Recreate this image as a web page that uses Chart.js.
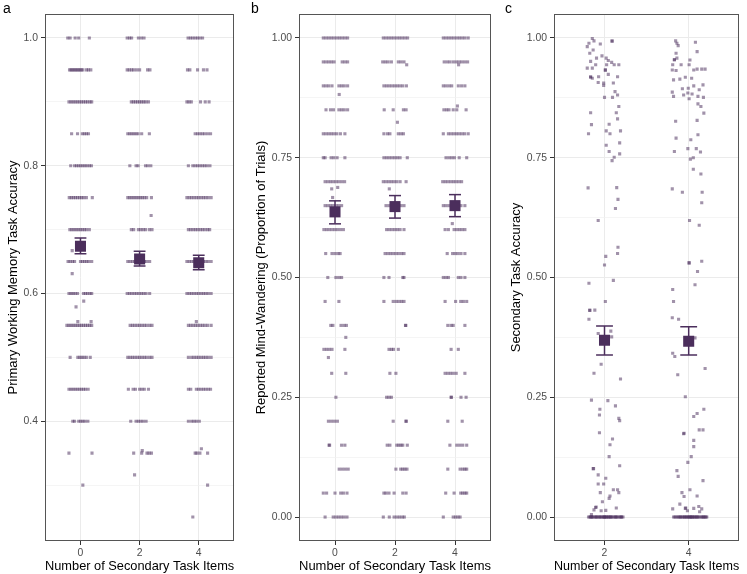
<!DOCTYPE html>
<html><head><meta charset="utf-8">
<script src="https://cdn.jsdelivr.net/npm/chart.js@4"></script>
<style>
html,body{margin:0;padding:0;background:#fff;}
#wrap{position:relative;width:747px;height:574px;overflow:hidden;font-family:"Liberation Sans",Arial,sans-serif;}
canvas{position:absolute;top:0;}
.lab{position:absolute;top:0;font-size:14px;line-height:16px;color:#000;}
</style></head><body>
<div id="wrap">
<canvas id="ca" width="242" height="574" style="left:0"></canvas>
<canvas id="cb" width="250" height="574" style="left:250px"></canvas>
<canvas id="cc" width="242" height="574" style="left:505px"></canvas>
<div class="lab" style="left:3px">a</div>
<div class="lab" style="left:251px">b</div>
<div class="lab" style="left:505px">c</div>
</div>
<script>
// ---------- Panel a: primary WM accuracy ----------
const aGroups = [0, 2, 4];
const aRows = [1.0, 0.95, 0.9, 0.85, 0.8, 0.75, 0.7, 0.65, 0.6, 0.55, 0.5, 0.45, 0.4, 0.35];
const aJit0 = [
  [-0.43,-0.35,-0.18,-0.06,0.30],
  [-0.37,-0.32,-0.27,-0.22,-0.17,-0.12,-0.07,-0.02,0.03,0.08,0.2,0.27,0.35],
  [-0.39,-0.32,-0.25,-0.18,-0.11,-0.04,0.03,0.1,0.17,0.24,0.32,0.38],
  [-0.3,-0.1,0.06,0.13,0.2,0.27],
  [-0.33,-0.2,-0.13,-0.06,0.01,0.08,0.15,0.22,0.3,0.37],
  [-0.38,-0.31,-0.24,-0.17,-0.1,-0.03,0.04,0.11,0.2,0.4],
  [-0.36,-0.29,-0.22,-0.15,-0.08,-0.01,0.06,0.13,0.2,0.3],
  [-0.42,-0.35,-0.27,-0.2,0.0,0.07,0.14,0.21,0.28,0.38],
  [-0.39,-0.32,-0.25,-0.18,-0.1,0.1,0.17,0.24,0.32,0.38],
  [-0.46,-0.39,-0.32,-0.25,-0.18,-0.11,-0.04,0.03,0.1,0.17,0.24,0.31,0.38],
  [-0.35,-0.09,-0.02,0.05,0.12,0.2,0.33],
  [-0.39,-0.32,-0.25,-0.18,-0.11,-0.04,0.03,0.1,0.17,0.26],
  [-0.26,-0.2,-0.06,0.01,0.08,0.15,0.25],
  [-0.39,0.39]
];
const aJit2 = [
  [-0.42,-0.34,-0.27,-0.04,0.06,0.15],
  [-0.42,-0.35,-0.27,-0.2,-0.1,0.0,0.27,0.35],
  [-0.28,-0.21,-0.14,-0.07,0.0,0.07,0.14,0.21,0.3],
  [-0.4,-0.33,-0.26,-0.19,-0.12,-0.05,0.07,0.33],
  [-0.33,-0.12,-0.05,0.2,0.28,0.38],
  [-0.4,-0.33,-0.26,-0.19,-0.12,-0.05,0.02,0.09,0.16,0.24,0.4],
  [-0.28,-0.2,-0.04,0.04,0.12,0.2,0.33,0.42],
  [-0.4,-0.32,-0.24,-0.16,-0.08,0.0,0.08,0.16,0.24,0.34],
  [-0.42,-0.34,-0.26,-0.18,-0.1,-0.02,0.06,0.14,0.22,0.34],
  [-0.32,-0.24,-0.16,-0.08,0.0,0.08,0.16,0.24,0.34,0.42],
  [-0.4,-0.32,-0.24,-0.16,-0.08,0.0,0.08,0.16,0.24,0.34,0.42],
  [-0.38,-0.22,-0.14,0.0,0.08,0.16,0.3],
  [-0.3,-0.12,-0.04,0.04,0.12,0.22],
  [-0.2,0.07,0.25,0.32,0.4]
];
const aJit4 = [
  [-0.36,-0.28,-0.2,-0.12,-0.04,0.04,0.13],
  [-0.38,-0.3,-0.04,0.16,0.28],
  [-0.4,-0.33,-0.25,0.06,0.22,0.35],
  [-0.12,-0.04,0.04,0.12,0.2,0.3,0.4],
  [-0.35,-0.2,-0.12,-0.04,0.04,0.12,0.2,0.28,0.38],
  [-0.4,-0.32,-0.24,-0.16,-0.08,0.0,0.08,0.16,0.24,0.32,0.42],
  [-0.35,-0.27,-0.19,-0.11,-0.03,0.05,0.13,0.21,0.3,0.37],
  [-0.4,-0.32,-0.24,-0.16,-0.08,0.0,0.08,0.16,0.24,0.32,0.42],
  [-0.4,-0.32,-0.24,-0.16,-0.08,0.0,0.08,0.16,0.24,0.32,0.42],
  [-0.35,-0.27,-0.19,-0.11,-0.03,0.05,0.13,0.21,0.3,0.42],
  [-0.35,-0.24,-0.16,-0.08,0.0,0.08,0.16,0.24,0.32,0.42],
  [-0.35,-0.27,-0.08,0.0,0.08,0.16,0.24,0.32,0.4],
  [-0.35,-0.24,-0.16,-0.08,0.02],
  [-0.12,-0.06,0.04,0.3]
];
const aOff0 = [[-0.28,0.667],[-0.28,0.631],[0.11,0.588],[-0.15,0.579],[-0.09,0.556],[0.36,0.556],[0.08,0.30]];
const aOff2 = [[0.39,0.722],[0.09,0.354],[-0.17,0.316]];
const aOff4 = [[-0.08,0.556],[0.09,0.357],[0.3,0.30],[-0.2,0.25]];
const aMean = [0.674, 0.654, 0.648];
const aLo = [0.662, 0.643, 0.637];
const aHi = [0.687, 0.666, 0.660];
const aYMajor = [0.4, 0.6, 0.8, 1.0];
const aYMinor = [0.3, 0.5, 0.7, 0.9];
const aYLabels = ['0.4', '0.6', '0.8', '1.0'];

// ---------- Panel b: mind-wandering ----------
const bGroups = [0, 2, 4];
const bRows = [1.0,0.95,0.9,0.85,0.8,0.75,0.7,0.65,0.6,0.55,0.5,0.45,0.4,0.35,0.3,0.25,0.2,0.15,0.1,0.05,0.0];
const bJit0 = [
  [-0.39,-0.3,-0.21,-0.12,-0.03,0.06,0.15,0.24,0.33,0.42],
  [-0.39,-0.3,-0.21,-0.12,-0.03,0.24,0.33,0.42],
  [-0.39,-0.3,-0.21,-0.1,0.13,0.22,0.31,0.42],
  [-0.3,-0.15,-0.05,0.13,0.22,0.31,0.42],
  [-0.39,-0.3,-0.21,-0.12,-0.03,0.06,0.18,0.33],
  [-0.39,-0.33,-0.13,-0.04,0.07,0.33],
  [-0.33,-0.24,-0.15,-0.06,0.03,0.12,0.22,0.32],
  [-0.33,-0.24,-0.15,-0.06,0.03,0.12,0.22],
  [-0.37,-0.28,-0.19,-0.1,-0.01,0.08,0.18,0.28],
  [-0.31,-0.1,0.0,0.1,0.17],
  [-0.24,0.03,0.13,0.22],
  [-0.33,0.13],
  [-0.14,-0.07,0.2,0.3,0.38],
  [-0.37,-0.28,-0.19,-0.1,0.33],
  [-0.11,0.36],
  [0.03],
  [-0.22,-0.12,-0.02,0.08],
  [-0.2,-0.18,0.22,0.33],
  [0.14,0.24,0.34,0.44],
  [-0.39,-0.28,0.0,0.19,0.28,0.4],
  [-0.33,-0.06,0.03,0.12,0.21,0.3,0.4]
];
const bJit2 = [
  [-0.39,-0.3,-0.21,-0.12,-0.03,0.06,0.15,0.24,0.33,0.42],
  [-0.41,-0.32,-0.23,-0.12,0.11,0.2,0.3],
  [-0.37,-0.28,-0.19,-0.1,-0.01,0.08,0.17,0.26,0.38],
  [-0.36,-0.06,0.28,0.37],
  [-0.37,-0.25,-0.17,0.11,0.2,0.28],
  [-0.37,-0.28,-0.19,-0.1,-0.01,0.08,0.17,0.41],
  [-0.39,-0.3,-0.21,-0.12,-0.03,0.06,0.17,0.37],
  [-0.3,-0.2,-0.1,0.0,0.1,0.2,0.3],
  [-0.28,-0.19,-0.1,-0.01,0.08,0.17,0.3],
  [-0.33,-0.24,-0.15,-0.06,0.03,0.12,0.22,0.3],
  [-0.37,-0.2,0.26,0.3],
  [-0.37,-0.06,0.04,0.13,0.22,0.3],
  [0.35,0.36],
  [-0.2,-0.12,-0.05,0.11],
  [-0.17,0.03],
  [-0.28,-0.2,-0.12],
  [-0.06,0.37,0.37],
  [-0.26,-0.17,0.06,0.13,0.2,0.26,0.41],
  [0.03,0.19,0.26,0.33,0.4],
  [-0.37,-0.3,-0.2,-0.03,0.26,0.37],
  [-0.39,-0.19,-0.03,0.06,0.15,0.24,0.31]
];
const bJit4 = [
  [-0.39,-0.3,-0.21,-0.12,-0.03,0.06,0.15,0.24,0.33,0.44],
  [-0.36,-0.26,-0.17,-0.06,0.04,0.13,0.22,0.32,0.42],
  [-0.39,-0.3,-0.2,-0.11,0.11,0.22,0.33],
  [-0.37,-0.28,-0.2,-0.06,0.06,0.37],
  [-0.39,-0.22,-0.13,-0.04,0.05,0.14,0.23,0.32,0.44],
  [-0.3,-0.2,-0.11,-0.02,0.14,0.39],
  [-0.41,-0.32,-0.23,-0.14,-0.05,0.04,0.13,0.22],
  [-0.39,-0.3,-0.2,-0.1,0.0,0.1,0.2,0.33],
  [-0.33,-0.22,-0.03,0.06,0.15,0.24,0.33],
  [-0.26,-0.08,0.01,0.1,0.2,0.33],
  [-0.39,-0.3,-0.22,0.11,0.2,0.33],
  [-0.33,0.02,0.19,0.28,0.39],
  [-0.24,-0.13,-0.06,0.33],
  [-0.13,0.11],
  [-0.33,-0.24,-0.15,-0.06,0.04,0.33],
  [-0.13,-0.12,0.2,0.37],
  [-0.24,0.24],
  [-0.17,0.06,0.16,0.26,0.39],
  [-0.24,0.17,0.26,0.33,0.39],
  [-0.31,-0.03,0.19,0.26,0.33,0.39],
  [-0.39,-0.06,0.02,0.1,0.17]
];
const bOff0 = [[0.14,0.882],[-0.11,0.685],[0.09,0.688],[-0.08,0.667],[0.36,0.375],[-0.22,0.333]];
const bOff2 = [[0.39,0.944],[0.08,0.824],[-0.19,0.685]];
const bOff4 = [[0.12,0.944],[0.08,0.858],[-0.09,0.6125]];
const bMean = [0.637, 0.648, 0.650];
const bLo = [0.612, 0.624, 0.627];
const bHi = [0.660, 0.671, 0.673];
const pYMajor = [0, 0.25, 0.5, 0.75, 1.0];
const pYMinor = [0.125, 0.375, 0.625, 0.875];
const pYLabels = ['0.00', '0.25', '0.50', '0.75', '1.00'];

// ---------- Panel c: secondary task accuracy ----------
const cGroups = [2, 4];
const cPts2 = [
  [-0.29,0.999],[-0.25,0.994],[-0.37,0.989],[-0.41,0.982],[-0.27,0.975],[-0.10,0.9875],[0.18,0.994],[0.18,0.993],
  [-0.35,0.968],[-0.06,0.9625],[-0.19,0.958],[-0.33,0.951],[0.04,0.958],[0.09,0.953],[0.17,0.949],[-0.21,0.944],
  [-0.41,0.937],[-0.29,0.937],[0.05,0.944],[0.23,0.944],[0.34,0.944],[0.02,0.932],[0.02,0.934],[0.09,0.924],
  [-0.33,0.919],[-0.33,0.918],[-0.29,0.916],[-0.14,0.919],[0.31,0.919],[-0.15,0.907],[-0.02,0.906],[-0.02,0.901],
  [0.21,0.906],[0.25,0.888],[0.31,0.881],[0.0,0.876],[0.19,0.876],[0.34,0.857],[-0.33,0.844],[0.28,0.844],
  [0.31,0.831],[-0.31,0.819],[0.11,0.82],[-0.38,0.8],[0.04,0.806],[0.13,0.8],[0.38,0.806],[0.04,0.776],
  [0.36,0.781],[0.11,0.763],[0.36,0.758],[0.23,0.751],[0.18,0.744],[-0.39,0.687],[0.29,0.6875],[0.32,0.663],
  [0.26,0.644],[-0.15,0.619],[0.32,0.563],[0.31,0.55],[0.03,0.544],[0.0,0.526],
  [-0.37,0.488],[0.21,0.494],[0.02,0.45],[-0.35,0.432],[-0.35,0.431],[-0.23,0.432],[-0.37,0.413],[-0.15,0.383],
  [0.15,0.388],[0.17,0.376],[-0.08,0.319],[-0.25,0.3],[0.38,0.288],[-0.31,0.244],[0.08,0.243],[-0.11,0.225],
  [0.26,0.232],[-0.12,0.213],[0.34,0.206],[0.36,0.201],[-0.12,0.176],[0.19,0.163],[0.13,0.151],[0.11,0.126],
  [-0.27,0.101],[-0.26,0.101],[0.36,0.107],[-0.15,0.088],[0.03,0.081],[-0.15,0.069],[-0.02,0.069],[-0.1,0.051],
  [0.21,0.057],[0.31,0.057],[0.34,0.051],[0.13,0.044],[0.11,0.039],[-0.05,0.032],[-0.21,0.02],[-0.2,0.021],
  [-0.25,0.015],[-0.08,0.013],[0.03,0.014],[0.28,0.019],[-0.31,0.005]
];
const cZero2 = [-0.38,-0.35,-0.33,-0.31,-0.28,-0.25,-0.22,-0.2,-0.19,-0.16,-0.13,-0.11,-0.1,-0.07,-0.04,-0.02,-0.01,
  0.02,0.04,0.05,0.08,0.1,0.11,0.14,0.17,0.2,0.23,0.26,0.29,0.32,0.35,0.38,0.41,0.44,-0.3,0.0,0.15,0.27,0.4];
const cPts4 = [
  [-0.31,0.994],[-0.28,0.989],[0.16,0.991],[-0.25,0.984],[0.2,0.9715],[-0.3,0.968],[-0.34,0.954],[-0.34,0.955],
  [-0.28,0.958],[-0.38,0.944],[-0.39,0.933],[-0.3,0.932],[-0.18,0.944],[0.03,0.954],[0.01,0.944],[0.12,0.933],
  [0.2,0.935],[0.31,0.935],[0.39,0.935],[-0.36,0.9125],[-0.21,0.914],[-0.08,0.918],[0.07,0.916],[0.12,0.9],
  [-0.15,0.894],[-0.01,0.895],[0.25,0.892],[0.34,0.902],[-0.39,0.887],[-0.36,0.878],[-0.12,0.881],[-0.02,0.885],
  [0.08,0.883],[0.01,0.873],[0.22,0.878],[0.35,0.876],[0.22,0.8625],[0.29,0.857],[0.36,0.843],[-0.31,0.826],
  [0.2,0.828],[-0.3,0.791],[0.05,0.7875],[0.22,0.798],[-0.34,0.763],[-0.02,0.769],[0.18,0.769],[0.28,0.762],
  [0.04,0.747],[0.11,0.75],[0.11,0.726],[0.29,0.716],[-0.39,0.685],[-0.15,0.678],[0.32,0.678],[0.31,0.656],
  [0.02,0.619],[0.25,0.609],[0.01,0.53],[0.01,0.531],[0.31,0.534],[0.21,0.5125],
  [0.15,0.485],[-0.38,0.475],[-0.36,0.45],[-0.39,0.416],[-0.24,0.413],[0.15,0.374],[-0.38,0.342],[-0.33,0.335],
  [-0.26,0.297],[0.39,0.31],[-0.08,0.251],[0.12,0.21],[0.2,0.216],[0.36,0.225],[0.25,0.182],[0.34,0.182],
  [-0.12,0.174],[-0.11,0.175],[0.12,0.16],[0.12,0.147],[0.06,0.126],[-0.02,0.114],[-0.28,0.097],[-0.25,0.085],
  [0.34,0.076],[-0.16,0.051],[-0.11,0.043],[0.03,0.057],[0.2,0.044],[-0.21,0.027],[-0.38,0.017],[-0.08,0.018],
  [-0.07,0.019],[-0.03,0.013],[0.12,0.018],[0.24,0.022],[0.31,0.017],[0.26,0.011]
];
const cZero4 = [-0.36,-0.33,-0.3,-0.27,-0.24,-0.21,-0.18,-0.15,-0.12,-0.1,-0.09,-0.06,-0.04,-0.03,0.0,0.02,0.03,
  0.06,0.08,0.09,0.12,0.14,0.15,0.18,0.21,0.24,0.27,0.3,0.33,0.36,0.39,0.41,0.43,-0.2,0.05,0.2,0.35];
const cMean = [0.369, 0.367];
const cLo = [0.338, 0.338];
const cHi = [0.399, 0.397];

// ---------- rendering ----------
const FONT = '"Liberation Sans", Arial, sans-serif';
const MEAN_COL = '#4b2e5c';
const PT_COL = 'rgba(75,46,92,0.52)';
const ERR_HALF = 0.2;

function rowPoints(g, rows, jit) {
  const out = [];
  rows.forEach((y, i) => jit[i].forEach(dx => out.push({x: g + dx, y: y})));
  return out;
}
function pairPoints(g, pairs) { return pairs.map(p => ({x: g + p[0], y: p[1]})); }
function zeroPoints(g, offs) { return offs.map(d => ({x: g + d, y: 0})); }

const near = (v, arr) => arr.some(a => Math.abs(a - v) < 1e-6);

const frame = {
  id: 'frame',
  afterDatasetsDraw(chart) {
    const {ctx, chartArea: {left, top, right, bottom}} = chart;
    ctx.save();
    ctx.strokeStyle = '#555555';
    ctx.lineWidth = 1;
    ctx.strokeRect(Math.round(left) + 0.5, Math.round(top) + 0.5, Math.round(right - left) - 1, Math.round(bottom - top) - 1);
    ctx.restore();
  }
};

function seg(data) {
  return {data: data, showLine: true, borderColor: MEAN_COL, borderWidth: 1.5, pointRadius: 0, fill: false, tension: 0};
}

function makeChart(id, c) {
  const ds = [];
  ds.push({data: c.groups.map((g, i) => ({x: g, y: c.mean[i]})), pointStyle: 'rect', pointRadius: 7.8,
           backgroundColor: MEAN_COL, borderWidth: 0});
  c.groups.forEach((g, i) => {
    ds.push(seg([{x: g, y: c.lo[i]}, {x: g, y: c.hi[i]}]));
    ds.push(seg([{x: g - ERR_HALF, y: c.lo[i]}, {x: g + ERR_HALF, y: c.lo[i]}]));
    ds.push(seg([{x: g - ERR_HALF, y: c.hi[i]}, {x: g + ERR_HALF, y: c.hi[i]}]));
  });
  ds.push({data: c.points, pointStyle: 'rect', pointRadius: 2.2, backgroundColor: PT_COL, borderWidth: 0});

  const yTicks = c.yMajor.concat(c.yMinor).sort((p, q) => p - q);
  return new Chart(document.getElementById(id), {
    type: 'scatter',
    data: {datasets: ds},
    plugins: [frame],
    options: {
      responsive: false, animation: false, events: [],
      layout: {padding: {left: c.padL, right: c.padR, top: 14, bottom: 0}},
      plugins: {legend: {display: false}, tooltip: {enabled: false}},
      scales: {
        x: {
          type: 'linear', min: c.xMin, max: c.xMax,
          afterBuildTicks: s => { s.ticks = c.groups.map(v => ({value: v})); },
          afterFit: s => { s.height = 33; },
          ticks: {autoSkip: false, maxRotation: 0, padding: 2, color: '#4d4d4d',
                  font: {family: FONT, size: 10.4}, callback: v => String(v)},
          grid: {color: '#ebebeb', lineWidth: 1, drawTicks: true, tickLength: 4, tickColor: '#333333', tickWidth: 1},
          border: {display: false},
          title: {display: true, text: 'Number of Secondary Task Items', color: '#000',
                  font: {family: FONT, size: 13}, padding: {top: 0, bottom: 0}}
        },
        y: {
          type: 'linear', min: c.yMin, max: c.yMax,
          afterBuildTicks: s => { s.ticks = yTicks.map(v => ({value: v})); },
          afterFit: s => { s.width = c.axisW; },
          ticks: {autoSkip: false, padding: 3, color: '#4d4d4d', font: {family: FONT, size: 10.4},
                  callback: v => { const k = c.yMajor.findIndex(a => Math.abs(a - v) < 1e-6); return k >= 0 ? c.yLabels[k] : ''; }},
          grid: {
            color: ctx => near(ctx.tick.value, c.yMinor) ? '#f1f1f1' : '#ebebeb',
            lineWidth: ctx => near(ctx.tick.value, c.yMinor) ? 0.7 : 1,
            drawTicks: true, tickLength: 4, tickWidth: 1,
            tickColor: ctx => near(ctx.tick.value, c.yMinor) ? 'rgba(0,0,0,0)' : '#333333'
          },
          border: {display: false},
          title: {display: true, text: c.yTitle, color: '#000', font: {family: FONT, size: 13}, padding: {top: 4, bottom: 4}}
        }
      }
    }
  });
}

const aPoints = [].concat(
  rowPoints(0, aRows, aJit0), rowPoints(2, aRows, aJit2), rowPoints(4, aRows, aJit4),
  pairPoints(0, aOff0), pairPoints(2, aOff2), pairPoints(4, aOff4));
const bPoints = [].concat(
  rowPoints(0, bRows, bJit0), rowPoints(2, bRows, bJit2), rowPoints(4, bRows, bJit4),
  pairPoints(0, bOff0), pairPoints(2, bOff2), pairPoints(4, bOff4));
const cPoints = [].concat(pairPoints(2, cPts2), zeroPoints(2, cZero2), pairPoints(4, cPts4), zeroPoints(4, cZero4));

makeChart('ca', {groups: aGroups, points: aPoints, mean: aMean, lo: aLo, hi: aHi,
  xMin: -1.2, xMax: 5.2, yMin: 0.2125, yMax: 1.0375, yMajor: aYMajor, yMinor: aYMinor, yLabels: aYLabels,
  yTitle: 'Primary Working Memory Task Accuracy', axisW: 43, padL: 2, padR: 6});
makeChart('cb', {groups: bGroups, points: bPoints, mean: bMean, lo: bLo, hi: bHi,
  xMin: -1.2, xMax: 5.2, yMin: -0.05, yMax: 1.05, yMajor: pYMajor, yMinor: pYMinor, yLabels: pYLabels,
  yTitle: 'Reported Mind-Wandering (Proportion of Trials)', axisW: 49, padL: 0, padR: 9});
makeChart('cc', {groups: cGroups, points: cPoints, mean: cMean, lo: cLo, hi: cHi,
  xMin: 0.8, xMax: 5.2, yMin: -0.05, yMax: 1.05, yMajor: pYMajor, yMinor: pYMinor, yLabels: pYLabels,
  yTitle: 'Secondary Task Accuracy', axisW: 49, padL: 0, padR: 2});
</script>
</body></html>
